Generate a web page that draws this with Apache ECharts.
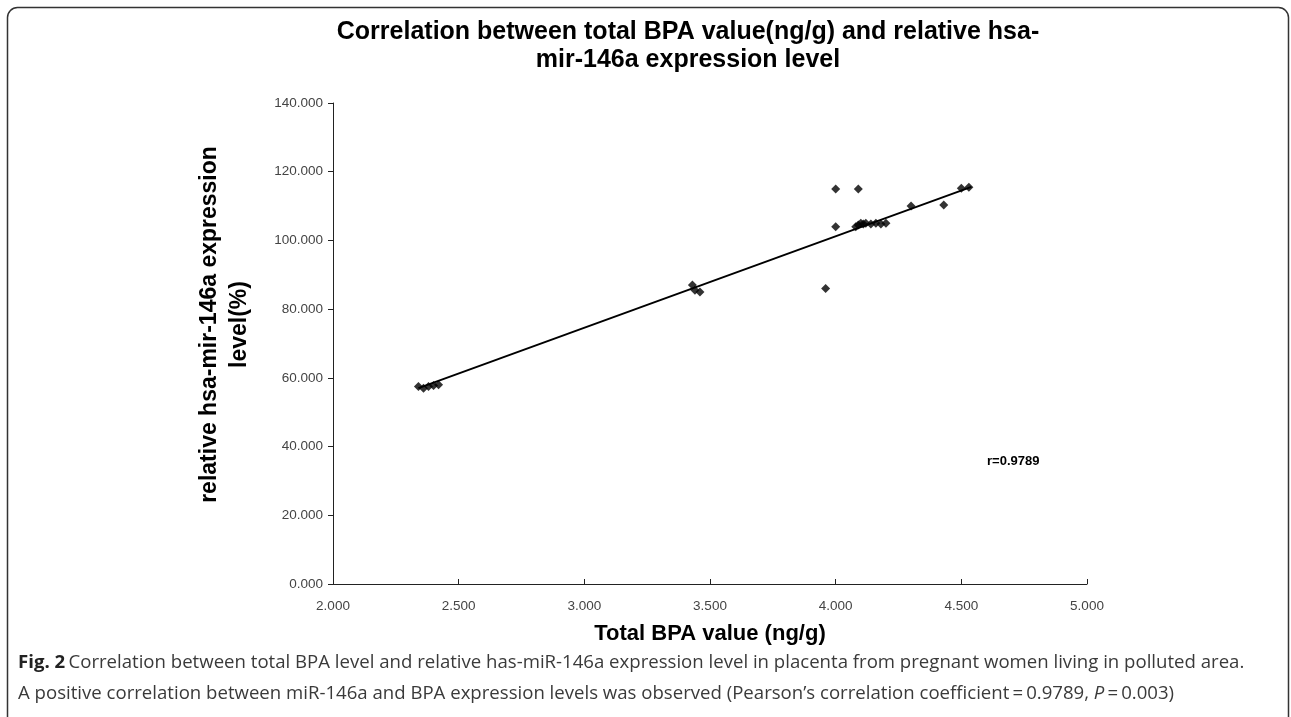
<!DOCTYPE html>
<html><head><meta charset="utf-8">
<script src="https://cdn.jsdelivr.net/npm/echarts@6/dist/echarts.min.js"></script>
<style>html,body{margin:0;padding:0;background:#fff}#c{width:1291px;height:717px}</style>
</head><body><div id="c"></div>
<script>
// Data
const bpaValues = [2.34, 2.36, 2.38, 2.40, 2.42, 3.43, 3.44, 3.46, 3.96, 4.00, 4.00, 4.09, 4.08, 4.09, 4.10, 4.11, 4.12, 4.14, 4.16, 4.18, 4.20, 4.30, 4.43, 4.50, 4.53];
const mirValues = [57.5, 57.0, 57.5, 57.8, 58.0, 87.0, 85.5, 85.0, 86.0, 115.0, 104.0, 115.0, 104.0, 104.5, 105.0, 104.8, 105.0, 104.8, 105.0, 104.8, 105.0, 110.0, 110.3, 115.2, 115.5];
const trendX = [2.34, 4.54];
const trendY = [57.0, 115.6];
const xTicks = [2, 2.5, 3, 3.5, 4, 4.5, 5];
const yTicks = [0, 20, 40, 60, 80, 100, 120, 140];

const points = bpaValues.map((x, i) => [x, mirValues[i]]);
const trend = trendX.map((x, i) => [x, trendY[i]]);

const chart = echarts.init(document.getElementById('c'));
chart.setOption({
  animation: false,
  backgroundColor: '#fff',
  grid: { left: 333, right: 204, top: 103, bottom: 133 },
  xAxis: {
    type: 'value', min: 2, max: 5, interval: 0.5,
    axisLine: { show: true, lineStyle: { color: '#222', width: 1 } },
    axisTick: { show: true, inside: true, length: 5, lineStyle: { color: '#222' } },
    splitLine: { show: false },
    axisLabel: { formatter: v => v.toFixed(3), color: '#444', fontFamily: 'Liberation Sans, Arial', fontSize: 13.5, margin: 15 },
    name: 'Total BPA value (ng/g)', nameLocation: 'middle', nameGap: 39,
    nameTextStyle: { color: '#000', fontWeight: 'bold', fontSize: 22, fontFamily: 'Liberation Sans, Arial' }
  },
  yAxis: {
    type: 'value', min: 0, max: 140, interval: 20,
    axisLine: { show: true, lineStyle: { color: '#222', width: 1 } },
    axisTick: { show: true, inside: false, length: 5, lineStyle: { color: '#222' } },
    splitLine: { show: false },
    axisLabel: { formatter: v => v.toFixed(3), color: '#444', fontFamily: 'Liberation Sans, Arial', fontSize: 13.5, margin: 10 },
    name: 'relative hsa-mir-146a expression\nlevel(%)', nameLocation: 'middle', nameGap: 78,
    nameTextStyle: { color: '#000', fontWeight: 'bold', fontSize: 23, lineHeight: 30, fontFamily: 'Liberation Sans, Arial', padding: [0, 0, 0, 38] }
  },
  title: {
    text: 'Correlation between total BPA value(ng/g) and relative hsa-\nmir-146a expression level',
    left: 683, top: 13, textAlign: 'center',
    textStyle: { color: '#000', fontWeight: 'bold', fontSize: 25, lineHeight: 28, fontFamily: 'Liberation Sans, Arial' }
  },
  series: [
    {
      type: 'line', data: trend, symbol: 'none',
      lineStyle: { color: '#000', width: 2 }, z: 2
    },
    {
      type: 'scatter', data: points, symbol: 'diamond', symbolSize: 9,
      itemStyle: { color: '#000' }, z: 3
    }
  ],
  graphic: [
    { type: 'rect', shape: { x: 7.5, y: 7.5, width: 1281, height: 740, r: 10 }, style: { fill: 'none', stroke: '#333', lineWidth: 1.5 } },
    { type: 'text', left: 987, top: 455, style: { text: 'r=0.9789', fill: '#000', font: 'bold 13px "Liberation Sans", Arial' } },
    { type: 'text', left: 18, top: 653, style: {
        rich: {
          b: { fontWeight: 'bold', fontSize: 18.6, fill: '#222', fontFamily: 'Open Sans' },
          n: { fontSize: 18.6, fill: '#3a3a3a', fontFamily: 'Open Sans' }
        },
        text: '{b|Fig. 2} {n|Correlation between total BPA level and relative has-miR-146a expression level in placenta from pregnant women living in polluted area.}'
      } },
    { type: 'text', left: 18, top: 684, style: {
        rich: {
          n: { fontSize: 18.6, fill: '#3a3a3a', fontFamily: 'Open Sans' },
          i: { fontSize: 18.6, fill: '#3a3a3a', fontFamily: 'Open Sans', fontStyle: 'italic' }
        },
        text: '{n|A positive correlation between miR-146a and BPA expression levels was observed (Pearson\u2019s correlation coefficient\u2009=\u20090.9789, }{i|P}{n|\u2009=\u20090.003)}'
      } }
  ]
});
</script></body></html>
